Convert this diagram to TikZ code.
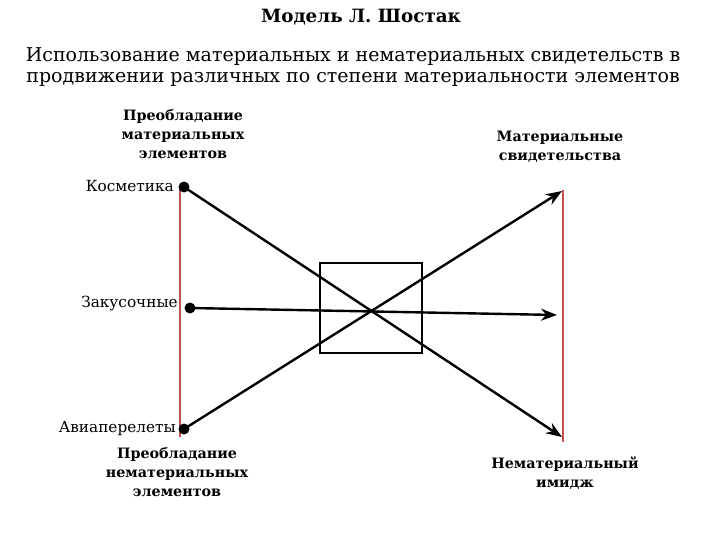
\documentclass[tikz,border=0pt]{standalone}
\usepackage{fontspec}
\setmainfont{DejaVu Serif}
\usetikzlibrary{arrows.meta}
\definecolor{redline}{RGB}{192,80,77}
\tikzset{
  redbar/.style={draw=redline, line width=2.2pt},
  conn/.style={draw=black, line width=2.4pt, -{Stealth[length=16pt,width=12pt]}},
  dotnode/.style={circle, fill=black, inner sep=0pt, minimum size=11pt},
  lbl/.style={font=\fontsize{15.3}{17}\selectfont, inner sep=1pt},
  head/.style={font=\fontsize{14.3}{19}\selectfont\bfseries, align=center, inner sep=0pt},
}
\begin{document}
\begin{tikzpicture}[x=1pt,y=-1pt]
\useasboundingbox (0,0) rectangle (720,540);
\node[font=\fontsize{18.3}{19}\selectfont\bfseries] (title) at (361,17) {Модель Л. Шостак};
\node[font=\fontsize{19}{21}\selectfont, align=center] (sub) at (353,67) {Использование материальных и нематериальных свидетельств в\\продвижении различных по степени материальности элементов};
\draw[redbar] (180,185) coordinate (l1) -- (180,437) coordinate (l2);
\draw[redbar] (563,190) coordinate (r1) -- (563,442) coordinate (r2);
\node[draw, line width=2.2pt, minimum width=102pt, minimum height=90pt, inner sep=0pt] (box) at (371,308) {};
\node[dotnode] (d1) at (184,187) {};
\node[dotnode] (d2) at (190,308) {};
\node[dotnode] (d3) at (184,429) {};
\coordinate (e1) at (562,437);
\coordinate (e2) at (557,315);
\coordinate (e3) at (562,191);
\draw[conn] (d1.center) -- (e1);
\draw[conn] (d2.center) -- (e2);
\draw[conn] (d3.center) -- (e3);
\node[lbl, anchor=east] (k) at (175,186) {Косметика};
\node[lbl, anchor=east] (z) at (179,304) {Закусочные};
\node[lbl, anchor=east] (a) at (177,429) {Авиаперелеты};
\node[head] (h1) at (183,134) {Преобладание\\материальных\\элементов};
\node[head] (h2) at (177,472) {Преобладание\\нематериальных\\элементов};
\node[head] (h3) at (560,147) {Материальные\\свидетельства};
\node[head] (h4) at (565,473) {Нематериальный\\имидж};
\end{tikzpicture}
\end{document}
